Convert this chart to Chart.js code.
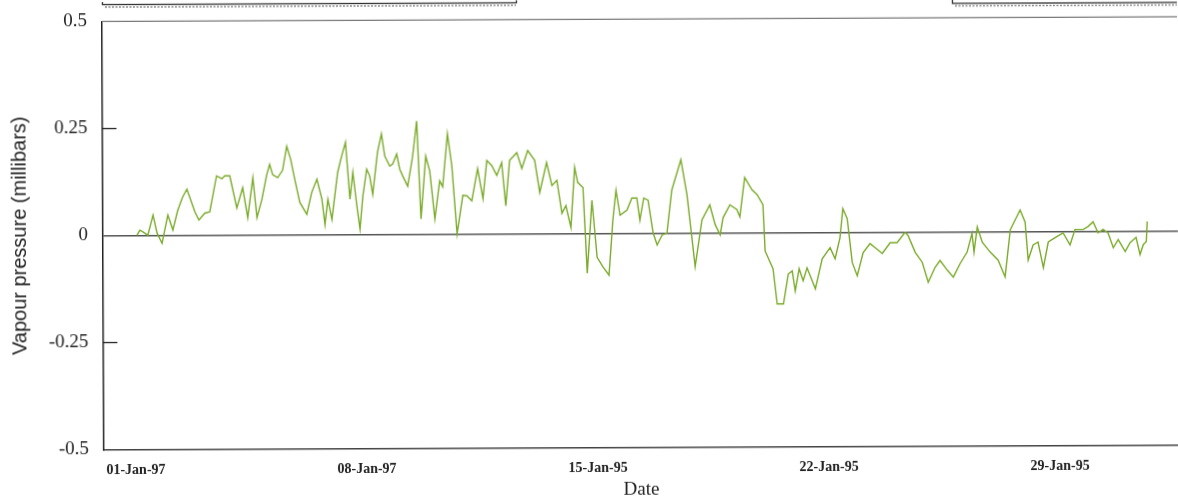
<!DOCTYPE html>
<html>
<head>
<meta charset="utf-8">
<script src="https://cdn.jsdelivr.net/npm/chart.js@4.4.1/dist/chart.umd.min.js"></script>
<style>
  html, body { margin: 0; padding: 0; background: #fff; overflow: hidden; }
  #wrap { width: 1178px; height: 502px; transform: rotate(-0.25deg); transform-origin: 589px 251px; }
  canvas { display: block; }
</style>
</head>
<body>
<div id="wrap"><canvas id="c" width="1178" height="502"></canvas></div>
<script>
// Time in days from the first tick, and the vapour pressure anomaly (millibars)
const days = [
  0.06, 0.15, 0.24, 0.39, 0.55, 0.67, 0.82, 1.00, 1.15, 1.30, 1.45, 1.58, 1.82, 1.94, 2.12, 2.27,
  2.48, 2.64, 2.73, 2.88, 3.09, 3.27, 3.42, 3.58, 3.70, 3.85, 4.00, 4.09, 4.18, 4.33, 4.48, 4.61,
  4.73, 4.85, 5.00, 5.21, 5.36, 5.52, 5.67, 5.76, 5.85, 5.97, 6.15, 6.27, 6.39, 6.52, 6.61, 6.73,
  6.82, 6.91, 7.03, 7.12, 7.21, 7.36, 7.48, 7.58, 7.73, 7.82, 7.94, 8.03, 8.12, 8.27, 8.42, 8.55,
  8.67, 8.82, 8.94, 9.09, 9.24, 9.33, 9.48, 9.61, 9.76, 9.94, 10.06, 10.21, 10.39, 10.55, 10.67, 10.82,
  10.97, 11.12, 11.24, 11.36, 11.58, 11.73, 11.91, 12.12, 12.27, 12.48, 12.64, 12.79, 12.94, 13.06, 13.21, 13.33,
  13.42, 13.58, 13.70, 13.85, 14.00, 14.18, 14.36, 14.48, 14.58, 14.70, 14.91, 15.06, 15.21, 15.30, 15.42, 15.55,
  15.70, 15.82, 15.97, 16.12, 16.27, 16.55, 16.73, 16.97, 17.18, 17.42, 17.58, 17.73, 17.82, 18.03, 18.24, 18.33,
  18.48, 18.70, 18.85, 19.03, 19.09, 19.33, 19.45, 19.64, 19.79, 19.91, 20.00, 20.12, 20.24, 20.36, 20.61, 20.82,
  21.06, 21.21, 21.36, 21.45, 21.58, 21.73, 21.88, 22.06, 22.27, 22.42, 22.64, 22.88, 23.09, 23.33, 23.42, 23.64,
  23.85, 24.03, 24.24, 24.39, 24.61, 24.79, 25.00, 25.21, 25.36, 25.42, 25.52, 25.67, 25.91, 26.15, 26.36, 26.52,
  26.67, 26.82, 26.97, 27.06, 27.21, 27.36, 27.52, 27.67, 27.88, 28.12, 28.33, 28.48, 28.73, 28.88, 29.03, 29.18,
  29.33, 29.48, 29.64, 29.79, 30.00, 30.15, 30.33, 30.45, 30.55, 30.64, 30.67
];
const vapour = [
  0.000, 0.012, 0.008, 0.000, 0.047, 0.005, -0.019, 0.047, 0.012, 0.058, 0.089, 0.107, 0.054, 0.035, 0.051, 0.054,
  0.138, 0.131, 0.138, 0.138, 0.063, 0.110, 0.040, 0.133, 0.040, 0.082, 0.140, 0.164, 0.140, 0.133, 0.150, 0.206,
  0.175, 0.129, 0.075, 0.047, 0.098, 0.129, 0.082, 0.023, 0.082, 0.035, 0.145, 0.182, 0.215, 0.082, 0.145, 0.065,
  0.012, 0.089, 0.152, 0.136, 0.093, 0.192, 0.234, 0.182, 0.159, 0.164, 0.187, 0.152, 0.136, 0.112, 0.180, 0.264,
  0.035, 0.182, 0.147, 0.035, 0.124, 0.110, 0.234, 0.159, 0.000, 0.090, 0.089, 0.077, 0.152, 0.082, 0.171, 0.159,
  0.136, 0.166, 0.065, 0.171, 0.189, 0.152, 0.194, 0.171, 0.096, 0.166, 0.112, 0.124, 0.047, 0.065, 0.014, 0.154,
  0.119, 0.107, -0.093, 0.077, -0.056, -0.079, -0.098, 0.030, 0.100, 0.042, 0.054, 0.082, 0.082, 0.030, 0.082, 0.077,
  0.000, -0.028, -0.005, 0.000, 0.100, 0.171, 0.089, -0.079, 0.030, 0.065, 0.019, -0.005, 0.035, 0.065, 0.054, 0.037,
  0.129, 0.100, 0.089, 0.065, -0.043, -0.085, -0.167, -0.167, -0.097, -0.090, -0.137, -0.085, -0.113, -0.083, -0.132, -0.062,
  -0.036, -0.062, -0.013, 0.055, 0.032, -0.071, -0.102, -0.048, -0.027, -0.036, -0.050, -0.025, -0.025, -0.001, -0.008, -0.048,
  -0.071, -0.118, -0.083, -0.067, -0.090, -0.106, -0.074, -0.048, -0.004, -0.048, 0.011, -0.025, -0.048, -0.067, -0.106, 0.004,
  0.027, 0.050, 0.022, -0.067, -0.032, -0.025, -0.085, -0.025, -0.015, -0.004, -0.032, 0.004, 0.004, 0.011, 0.022, -0.004,
  0.004, -0.004, -0.039, -0.020, -0.048, -0.027, -0.015, -0.055, -0.032, -0.025, 0.022
];

// Axis ticks
const xTickDays = [0, 7, 14, 21, 28];
const xTickLabels = ['01-Jan-97', '08-Jan-97', '15-Jan-95', '22-Jan-95', '29-Jan-95'];
const yTickValues = [-0.5, -0.25, 0, 0.25, 0.5];
const yTickLabels = ['-0.5', '-0.25', '0', '0.25', '0.5'];
const innerTickValues = [-0.25, 0.25];

// Frame details: top edge of the plot, inward tick marks, and the clipped boxes above
const framePlugin = {
  id: 'frame',
  afterDraw(chart) {
    const { ctx, chartArea, scales } = chart;
    ctx.save();
    // top edge
    ctx.strokeStyle = '#7a7a7a';
    ctx.lineWidth = 1.2;
    ctx.beginPath();
    ctx.moveTo(chartArea.left, chartArea.top);
    ctx.lineTo(chartArea.right, chartArea.top);
    ctx.stroke();
    // inward ticks on the value axis
    ctx.strokeStyle = '#222';
    ctx.lineWidth = 1.3;
    innerTickValues.forEach(v => {
      const y = Math.round(scales.y.getPixelForValue(v)) + 0.5;
      ctx.beginPath();
      ctx.moveTo(chartArea.left, y);
      ctx.lineTo(chartArea.left + 14, y);
      ctx.stroke();
    });
    // boxes running off the top edge
    ctx.strokeStyle = '#333';
    ctx.lineWidth = 1.3;
    ctx.strokeRect(103.5, -20, 414, 22.5);
    ctx.strokeRect(953.5, -20, 260, 25);
    ctx.strokeStyle = '#8a8a8a';
    ctx.lineWidth = 1.5;
    ctx.setLineDash([2, 1.5]);
    ctx.beginPath();
    ctx.moveTo(106, 5); ctx.lineTo(517, 5);
    ctx.moveTo(956, 7.5); ctx.lineTo(1178, 7.5);
    ctx.stroke();
    ctx.restore();
  }
};

new Chart(document.getElementById('c'), {
  type: 'line',
  data: {
    datasets: [{
      data: days.map((d, i) => ({ x: d, y: vapour[i] })),
      borderColor: '#7aab2a',
      borderWidth: 1.4,
      pointRadius: 0,
      tension: 0,
      fill: false
    }]
  },
  options: {
    responsive: false,
    animation: false,
    events: [],
    layout: { padding: { top: 19.3, right: 0, bottom: 0, left: 0 } },
    plugins: { legend: { display: false }, tooltip: { enabled: false } },
    scales: {
      x: {
        type: 'linear',
        min: -0.97,
        max: 31.6,
        afterBuildTicks: s => { s.ticks = xTickDays.map(v => ({ value: v })); },
        afterFit: s => { s.height = 54.7; s.paddingLeft = 0; s.paddingRight = 0; },
        grid: { color: 'rgba(0,0,0,0)', drawTicks: false },
        border: { display: true, color: '#444', width: 1.5 },
        ticks: {
          callback: v => xTickLabels[xTickDays.indexOf(v)],
          font: { family: 'Liberation Serif', size: 14, weight: 'bold' },
          color: '#222',
          padding: 13,
          maxRotation: 0,
          autoSkip: false
        },
        title: {
          display: true,
          text: 'Date',
          font: { family: 'Liberation Serif', size: 19 },
          color: '#222',
          padding: { top: 0, bottom: 1 }
        }
      },
      y: {
        min: -0.5,
        max: 0.5,
        afterBuildTicks: s => { s.ticks = yTickValues.map(v => ({ value: v })); },
        afterFit: s => { s.width = 103; s.paddingTop = 0; s.paddingBottom = 0; },
        grid: {
          color: c => (c.tick && c.tick.value === 0) ? '#555' : 'rgba(0,0,0,0)',
          lineWidth: 1.5,
          drawTicks: false
        },
        border: { display: true, color: '#222', width: 1.5 },
        ticks: {
          callback: v => yTickLabels[yTickValues.indexOf(v)],
          font: { family: 'Liberation Serif', size: 19 },
          color: '#222',
          padding: 15
        },
        title: {
          display: true,
          text: 'Vapour pressure (millibars)',
          font: { family: 'Liberation Sans', size: 20 },
          color: '#222',
          padding: { top: 8, bottom: 0 }
        }
      }
    }
  },
  plugins: [framePlugin]
});
</script>
</body>
</html>
